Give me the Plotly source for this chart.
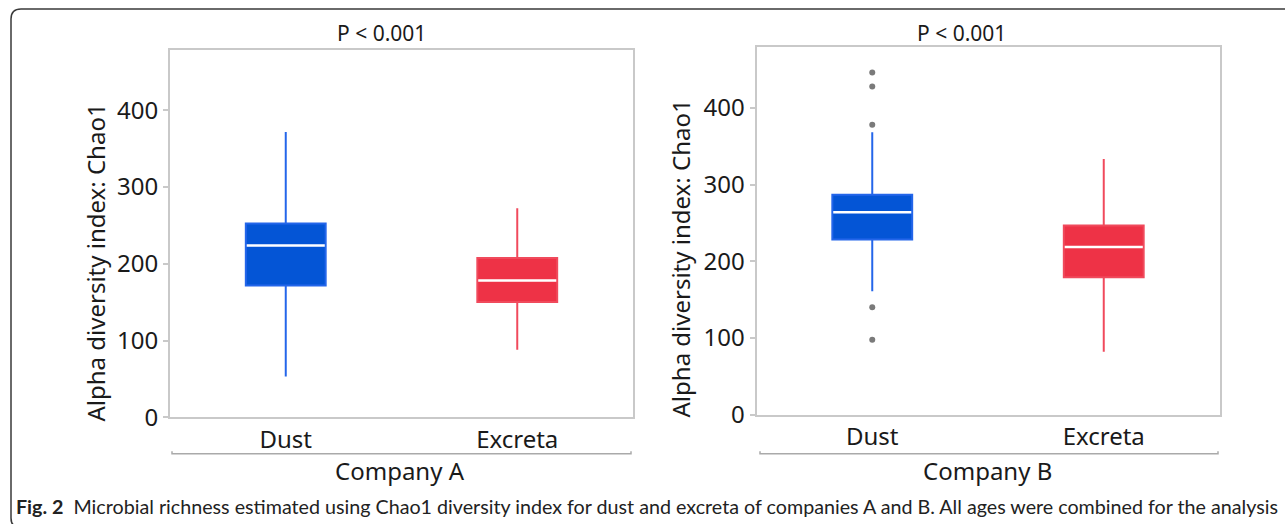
import plotly.graph_objects as go

# Chao1 richness summaries (box statistics) per company and sample type
categories = ["Dust", "Excreta"]

a_lower = [53.5, 88.3]
a_q1 = [171.7, 150.4]
a_median = [224.0, 178.2]
a_q3 = [252.5, 207.8]
a_upper = [371.6, 272.5]

b_lower = [160.9, 82.1]
b_q1 = [228.4, 179.1]
b_median = [263.7, 218.4]
b_q3 = [286.8, 246.7]
b_upper = [368.2, 333.3]

# outlying Chao1 values, company B dust
b_dust_outliers = [446.2, 427.9, 377.8, 140.0, 97.7]

y_ticks = [0, 100, 200, 300, 400]
p_label = "P < 0.001"
company_labels = ["Company A", "Company B"]
caption_bold = "Fig. 2"
caption_text = ("Microbial richness estimated using Chao1 diversity index for dust and "
                "excreta of companies A and B. All ages were combined for the analysis")

W, H = 1285, 524
FIG_H = 540
FONT = "Noto Sans"
fill_colors = ["#0455D6", "#EE3246"]
line_colors = ["#2466EA", "#F04A5C"]
BOX_W = 0.345


def px(x):
    return x / W


def py(y):
    return 1 - y / H


fig = go.Figure()

panels = [
    dict(xa="x", ya="y", lower=a_lower, q1=a_q1, med=a_median, q3=a_q3, up=a_upper),
    dict(xa="x2", ya="y2", lower=b_lower, q1=b_q1, med=b_median, q3=b_q3, up=b_upper),
]

for p in panels:
    for i, cat in enumerate(categories):
        fig.add_trace(go.Box(
            x=[i], q1=[p["q1"][i]], median=[p["med"][i]], q3=[p["q3"][i]],
            lowerfence=[p["lower"][i]], upperfence=[p["up"][i]],
            width=BOX_W, whiskerwidth=0,
            fillcolor=fill_colors[i],
            line=dict(color=line_colors[i], width=2),
            boxpoints=False, showlegend=False, hoverinfo="skip",
            xaxis=p["xa"], yaxis=p["ya"],
        ))
        # white median bar across the box
        fig.add_trace(go.Scatter(
            x=[i - BOX_W / 2 + 0.004, i + BOX_W / 2 - 0.004],
            y=[p["med"][i], p["med"][i]],
            mode="lines", line=dict(color="white", width=2.5),
            showlegend=False, hoverinfo="skip",
            xaxis=p["xa"], yaxis=p["ya"],
        ))

fig.add_trace(go.Scatter(
    x=[0] * len(b_dust_outliers), y=b_dust_outliers, mode="markers",
    marker=dict(color="#7a7a7a", size=6),
    showlegend=False, hoverinfo="skip", xaxis="x2", yaxis="y2",
))

frame = "#c9c9c9"
xaxis_common = dict(
    range=[-0.5, 1.5], tickvals=[0, 1], ticktext=categories,
    showline=True, linecolor=frame, linewidth=2, mirror=True,
    ticks="", showgrid=False, zeroline=False,
    tickfont=dict(family=FONT, size=24, color="#1a1a1a"),
)
yaxis_common = dict(
    tickvals=y_ticks, showline=True, linecolor=frame, linewidth=2, mirror=True,
    ticks="outside", ticklen=5, tickcolor=frame, tickwidth=1.5,
    showgrid=False, zeroline=False,
    tickfont=dict(family=FONT, size=24, color="#1a1a1a"),
)

fig.update_layout(
    width=W, height=FIG_H, autosize=False,
    margin=dict(l=0, r=0, t=0, b=0, pad=0),
    paper_bgcolor="white", plot_bgcolor="white",
    xaxis=dict(domain=[px(170), px(633)], anchor="y", **xaxis_common),
    yaxis=dict(domain=[py(416.7), py(50)], anchor="x", range=[0, 478.3], **yaxis_common),
    xaxis2=dict(domain=[px(756.5), px(1219.5)], anchor="y2", **xaxis_common),
    yaxis2=dict(domain=[py(413.8), py(46.7)], anchor="x2", range=[0, 479.6], **yaxis_common),
)

annotations = []
# axis titles
for xc, yc in [(95, 262), (680, 258)]:
    annotations.append(dict(
        x=px(xc), y=py(yc), xref="paper", yref="paper",
        text="Alpha diversity index: Chao1", textangle=-90, showarrow=False,
        font=dict(family=FONT, size=24, color="#1a1a1a"),
        xanchor="center", yanchor="middle",
    ))
# significance labels
for xc in [381, 961]:
    annotations.append(dict(
        x=px(xc), y=py(33), xref="paper", yref="paper", text=p_label,
        showarrow=False, font=dict(family=FONT, size=21, color="#1a1a1a"),
        xanchor="center", yanchor="middle",
    ))
# company group labels
for xc, lab in zip([400, 987.5], company_labels):
    annotations.append(dict(
        x=px(xc), y=py(470), xref="paper", yref="paper", text=lab,
        showarrow=False, font=dict(family=FONT, size=24, color="#1a1a1a"),
        xanchor="center", yanchor="middle",
    ))
# figure caption
annotations.append(dict(
    x=px(14), y=py(506), xref="paper", yref="paper",
    text=f"<b>{caption_bold}</b>  {caption_text}",
    showarrow=False, font=dict(family="Lato", size=19.7, color="#222"),
    xanchor="left", yanchor="middle",
))
fig.update_layout(annotations=annotations)

shapes = []
# group brackets under the category labels
for x0, x1 in [(172, 631), (760, 1218)]:
    shapes.append(dict(
        type="path", xref="paper", yref="paper",
        path=(f"M {px(x0)},{py(450.5)} L {px(x0)},{py(453)} "
              f"L {px(x1)},{py(453)} L {px(x1)},{py(450.5)}"),
        line=dict(color="#aaaaaa", width=1.5),
    ))
# rounded outer frame
r = 10
L, T, B, R = 11, 9, 527, 1300
shapes.append(dict(
    type="path", xref="paper", yref="paper",
    path=(f"M {px(R)},{py(T)} L {px(L + r)},{py(T)} "
          f"Q {px(L)},{py(T)} {px(L)},{py(T + r)} "
          f"L {px(L)},{py(B - r)} Q {px(L)},{py(B)} {px(L + r)},{py(B)} "
          f"L {px(R)},{py(B)}"),
    line=dict(color="#3a3a3a", width=1.5),
))
fig.update_layout(shapes=shapes)

fig.write_html("out.html", config={"responsive": False})

# page without body margin or scrollbars so the figure fills the window exactly
with open("out.html", encoding="utf-8") as fh:
    page = fh.read()
page = page.replace(
    "<head>",
    "<head><style>html,body{margin:0;padding:0;overflow:hidden;}</style>",
    1,
)
with open("out.html", "w", encoding="utf-8") as fh:
    fh.write(page)
